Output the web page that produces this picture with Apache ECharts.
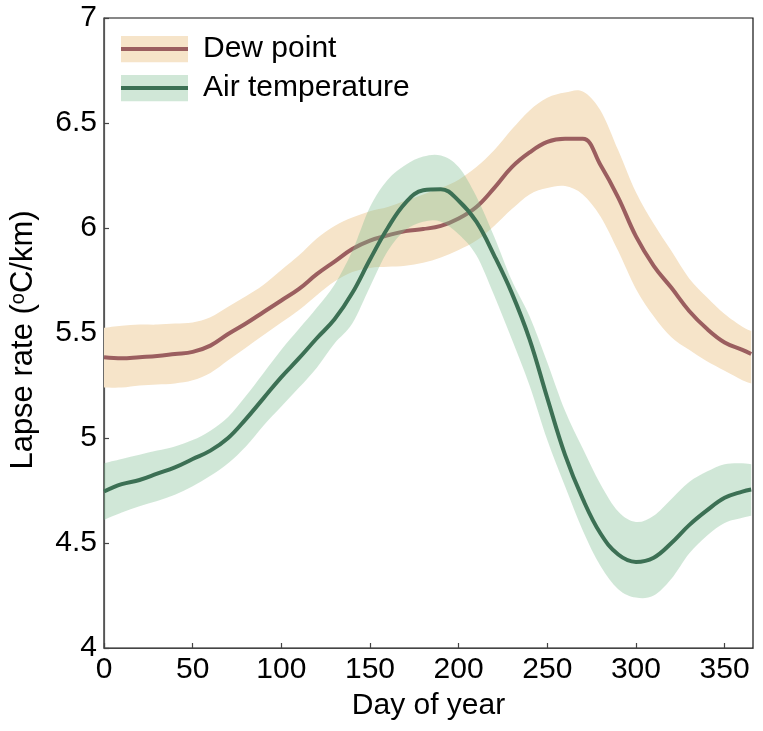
<!DOCTYPE html>
<html>
<head>
<meta charset="utf-8">
<script src="https://cdn.jsdelivr.net/npm/echarts@6/dist/echarts.min.js"></script>
<style>
html,body{margin:0;padding:0;background:#fff;}
#chart{width:763px;height:731px;}
</style>
</head>
<body>
<div id="chart"></div>
<script>
// ---- data ----
const days = [0,10,20,30,40,50,60,70,80,90,100,110,120,130,140,150,160,170,180,190,200,210,220,230,240,250,260,270,280,290,300,310,320,330,340,350,360,365];

const dewMean  = [5.385,5.38,5.385,5.39,5.40,5.41,5.44,5.495,5.545,5.60,5.655,5.71,5.78,5.84,5.90,5.94,5.965,5.985,5.995,6.01,6.045,6.10,6.19,6.29,6.36,6.41,6.425,6.425,6.30,6.145,5.96,5.82,5.715,5.605,5.52,5.455,5.42,5.40];
const dewUpper = [5.525,5.535,5.54,5.54,5.545,5.55,5.575,5.625,5.675,5.73,5.80,5.87,5.95,6.01,6.05,6.08,6.10,6.13,6.16,6.19,6.23,6.29,6.37,6.47,6.56,6.62,6.645,6.65,6.56,6.37,6.17,6.02,5.89,5.76,5.67,5.59,5.53,5.51];
const dewLower = [5.24,5.24,5.25,5.255,5.26,5.275,5.31,5.37,5.43,5.49,5.55,5.61,5.68,5.745,5.79,5.81,5.815,5.82,5.835,5.86,5.895,5.94,6.01,6.09,6.16,6.19,6.20,6.16,6.055,5.89,5.71,5.58,5.48,5.42,5.365,5.32,5.275,5.26];

const airMean  = [4.745,4.78,4.80,4.83,4.86,4.90,4.94,5.00,5.09,5.19,5.29,5.38,5.475,5.565,5.69,5.85,6.00,6.12,6.18,6.185,6.13,6.03,5.87,5.69,5.47,5.19,4.92,4.71,4.545,4.445,4.41,4.43,4.50,4.585,4.655,4.715,4.745,4.755];
const airUpper = [4.88,4.90,4.92,4.94,4.96,4.99,5.035,5.10,5.20,5.31,5.42,5.52,5.62,5.73,5.89,6.10,6.23,6.30,6.34,6.345,6.29,6.15,5.96,5.75,5.58,5.36,5.13,4.95,4.78,4.65,4.60,4.63,4.71,4.79,4.84,4.875,4.88,4.875];
const airLower = [4.61,4.645,4.675,4.70,4.73,4.77,4.82,4.88,4.96,5.06,5.15,5.24,5.335,5.45,5.545,5.72,5.89,5.99,6.03,6.03,5.97,5.87,5.68,5.47,5.25,4.99,4.77,4.56,4.39,4.28,4.24,4.25,4.33,4.45,4.535,4.595,4.62,4.63];

const xTicks = [0,50,100,150,200,250,300,350];
const yTicks = [4,4.5,5,5.5,6,6.5,7];
const seriesNames = ['Dew point','Air temperature'];

// ---- styles ----
const DEW_BAND = '#f6e4c9';
const DEW_LINE = '#9b5e5f';
const AIR_BAND = 'rgba(125,188,145,0.36)';
const AIR_BAND_SOLID = '#d0e7d7';
const AIR_LINE = '#3c7054';
const FONT = 'Liberation Sans, Arial, sans-serif';

function pairs(vals){ return days.map((d,i)=>[d, vals[i]]); }
function bandRows(lo, up){ return days.map((d,i)=>[d, lo[i], up[i]]); }

// smooth (Catmull-Rom -> Bezier) path through pixel points
function smoothSeg(pts, start){
  let s = start ? ('M' + pts[0][0] + ',' + pts[0][1]) : ('L' + pts[0][0] + ',' + pts[0][1]);
  for (let i = 0; i < pts.length - 1; i++){
    const p0 = pts[Math.max(i-1,0)], p1 = pts[i], p2 = pts[i+1], p3 = pts[Math.min(i+2, pts.length-1)];
    const c1x = p1[0] + (p2[0]-p0[0])/6, c1y = p1[1] + (p2[1]-p0[1])/6;
    const c2x = p2[0] - (p3[0]-p1[0])/6, c2y = p2[1] - (p3[1]-p1[1])/6;
    s += 'C' + c1x + ',' + c1y + ',' + c2x + ',' + c2y + ',' + p2[0] + ',' + p2[1];
  }
  return s;
}

function makeBand(name, lo, up, color, z){
  const rows = bandRows(lo, up);
  return {
    name:name, type:'custom', z:z, silent:true,
    encode:{x:0, y:[1,2]},
    data:rows,
    clip:true,
    renderItem: function(params, api){
      if (params.dataIndex !== 0) return null;
      const upPts = rows.map(r => api.coord([r[0], r[2]]));
      const loPts = rows.map(r => api.coord([r[0], r[1]])).reverse();
      return {
        type:'path',
        shape:{pathData: smoothSeg(upPts, true) + smoothSeg(loPts, false) + 'Z'},
        style:{fill:color, stroke:null},
        silent:true
      };
    }
  };
}

function iconSvg(band, line){
  const svg = '<svg xmlns="http://www.w3.org/2000/svg" width="67" height="27">' +
    '<rect x="0" y="0" width="67" height="27" fill="' + band + '"/>' +
    '<rect x="0" y="11.5" width="67" height="4" fill="' + line + '"/></svg>';
  return 'image://data:image/svg+xml;charset=utf-8,' + encodeURIComponent(svg);
}

const chart = echarts.init(document.getElementById('chart'), null, {renderer:'canvas'});

chart.setOption({
  animation:false,
  backgroundColor:'#fff',
  textStyle:{fontFamily:FONT},
  grid:{left:102, right:10, top:18, bottom:83, show:true, borderColor:'#111', borderWidth:1.2, backgroundColor:'transparent'},
  legend:{
    orient:'vertical', left:116, top:29,
    itemWidth:67, itemHeight:27, itemGap:9, itemTextGap:18,
    textStyle:{fontSize:30, color:'#000', fontFamily:FONT, lineHeight:30, padding:[0,0,0,10]},
    selectedMode:false,
    data:[
      {name:seriesNames[0], icon:iconSvg(DEW_BAND, DEW_LINE)},
      {name:seriesNames[1], icon:iconSvg(AIR_BAND_SOLID, AIR_LINE)}
    ]
  },
  xAxis:{
    type:'value', min:0, max:366, interval:50,
    name:'Day of year', nameLocation:'middle', nameGap:43,
    nameTextStyle:{fontSize:30, color:'#000', fontFamily:FONT},
    axisLine:{show:true, onZero:false, lineStyle:{color:'#444', width:1.2}},
    axisTick:{show:true, inside:true, length:5, lineStyle:{color:'#444', width:1.2}},
    axisLabel:{fontSize:30, color:'#000', margin:7, fontFamily:FONT},
    splitLine:{show:false}
  },
  yAxis:{
    type:'value', min:4, max:7, interval:0.5,
    name:'Lapse rate ({sup|o}C/km)', nameLocation:'middle', nameGap:65,
    nameTextStyle:{fontSize:31, color:'#000', fontFamily:FONT, padding:[0,14,0,0],
      rich:{sup:{fontSize:20, color:'#000', fontFamily:FONT, verticalAlign:'top', lineHeight:20, padding:[0,0,10,0]}}},
    axisLine:{show:true, lineStyle:{color:'#555', width:1.2}},
    axisTick:{show:true, inside:true, length:5, lineStyle:{color:'#444', width:1.2}},
    axisLabel:{fontSize:30, color:'#000', margin:7, fontFamily:FONT,
      formatter: v => yTicks.indexOf(v) >= 0 ? String(v) : ''},
    splitLine:{show:false}
  },
  series:[
    makeBand('Dew point band', dewLower, dewUpper, DEW_BAND, 1),
    {name:seriesNames[0], type:'line', smooth:0.4, symbol:'none', z:2, data:pairs(dewMean),
      itemStyle:{color:DEW_LINE}, lineStyle:{color:DEW_LINE, width:4}},
    makeBand('Air temperature band', airLower, airUpper, AIR_BAND, 3),
    {name:seriesNames[1], type:'line', smooth:0.4, symbol:'none', z:4, data:pairs(airMean),
      itemStyle:{color:AIR_LINE}, lineStyle:{color:AIR_LINE, width:4}}
  ]
});
</script>
</body>
</html>
